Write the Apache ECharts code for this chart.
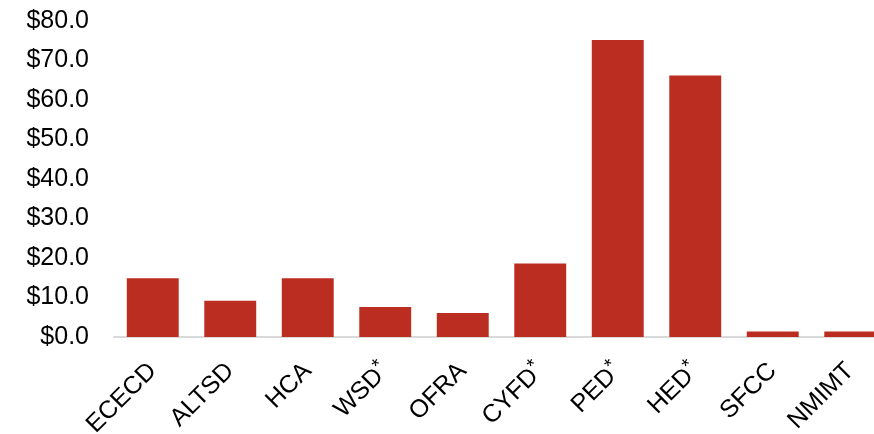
<!DOCTYPE html>
<html>
<head>
<meta charset="utf-8">
<script src="https://cdn.jsdelivr.net/npm/echarts@6/dist/echarts.min.js"></script>
<style>
  html, body { margin: 0; padding: 0; background: #fff; overflow: hidden; }
  #main { width: 889px; height: 434px; }
</style>
</head>
<body>
<div id="main"></div>
<script>
var categories = ['ECECD', 'ALTSD', 'HCA', 'WSD*', 'OFRA', 'CYFD*', 'PED*', 'HED*', 'SFCC', 'NMIMT'];
var values = [14.9, 9.2, 14.9, 7.6, 6.1, 18.6, 75.2, 66.2, 1.4, 1.4];

// 图表比窗口略宽，最后一根柱子被右边裁掉一部分（与原图一致）
var myChart = echarts.init(document.getElementById('main'));

var option = {
    animation: false,
    grid: {
        left: 114,
        right: 0,
        top: 21,
        bottom: 97,
        outerBoundsMode: 'none'
    },
    xAxis: {
        type: 'category',
        data: categories,
        axisLine: { lineStyle: { color: '#d9d9d9', width: 2 } },
        axisTick: { show: false },
        axisLabel: {
            rotate: 45,
            interval: 0,
            margin: 30,
            color: '#000',
            fontSize: 25,
            fontFamily: 'Liberation Sans, Arial, sans-serif',
            formatter: function (name) {
                // 星号做成上标
                return name.replace('*', '{sup|*}');
            },
            rich: {
                sup: {
                    fontSize: 20,
                    verticalAlign: 'top',
                    padding: [0, 0, 12, 0],
                    color: '#000',
                    fontFamily: 'Liberation Sans, Arial, sans-serif'
                }
            }
        }
    },
    yAxis: {
        type: 'value',
        min: 0,
        max: 80,
        interval: 10,
        splitLine: { show: false },
        axisLine: { show: false },
        axisTick: { show: false },
        axisLabel: {
            margin: 25,
            color: '#000',
            fontSize: 25,
            fontFamily: 'Liberation Sans, Arial, sans-serif',
            formatter: function (v) { return '$' + v.toFixed(1); }
        }
    },
    series: [{
        type: 'bar',
        data: values,
        barWidth: '67%',
        itemStyle: { color: '#BA2D20' }
    }]
};

myChart.setOption(option);
</script>
</body>
</html>
